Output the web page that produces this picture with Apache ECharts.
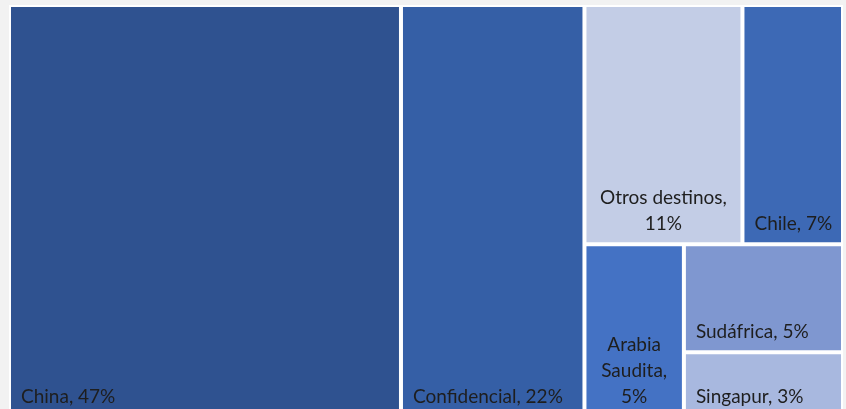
<!DOCTYPE html>
<html>
<head>
<meta charset="utf-8">
<script src="https://cdn.jsdelivr.net/npm/echarts@6/dist/echarts.min.js"></script>
<style>
  html, body { margin: 0; padding: 0; background: #f2f2f2; }
  #chart { width: 846px; height: 409px; }
</style>
</head>
<body>
<div id="chart"></div>
<script>
// destinos y participación (%)
const names = ['China', 'Confidencial', 'Otros destinos', 'Chile', 'Arabia Saudita', 'Sudáfrica', 'Singapur']
const shares = [47, 22, 11, 7, 5, 5, 3]
const colors = ['#2f5290', '#355fa6', '#c3cde6', '#3d69b5', '#4472c4', '#7f97d0', '#a8b8df']
// agrupación de las celdas (índices de names)
const layoutTree = [0, 1, [[2, 3], [4, [5, 6]]]]
// etiquetas partidas en varias líneas, centradas
const wrappedLabels = {
    'Otros destinos': 'Otros destinos,\n{v}%',
    'Arabia Saudita': 'Arabia\nSaudita,\n{v}%'
}

function buildNode(item) {
    if (Array.isArray(item)) {
        return {
            name: '',
            itemStyle: { borderWidth: 0, gapWidth: 2 },
            children: item.map(buildNode)
        }
    }
    const node = {
        name: names[item],
        value: shares[item],
        itemStyle: { color: colors[item] }
    }
    if (wrappedLabels[names[item]]) {
        node.label = { position: 'insideBottom', align: 'center', padding: 0 }
    }
    return node
}

const chart = echarts.init(document.getElementById('chart'))
chart.setOption({
    backgroundColor: '#f2f2f2',
    animation: false,
    series: [{
        type: 'treemap',
        left: 9,
        top: 5,
        width: 834,
        height: 412,
        sort: false,
        squareRatio: 1,
        roam: false,
        nodeClick: false,
        breadcrumb: { show: false },
        itemStyle: { borderColor: '#fff', borderWidth: 1, gapWidth: 2 },
        upperLabel: { show: false },
        label: {
            show: true,
            position: 'insideBottomLeft',
            distance: 5,
            padding: [0, 0, 0, 5],
            formatter: p => {
                const tpl = wrappedLabels[p.name]
                return tpl ? tpl.replace('{v}', p.value) : p.name + ', ' + p.value + '%'
            },
            fontFamily: 'Lato',
            fontSize: 19,
            lineHeight: 26,
            color: '#1e1e1e',
            overflow: 'none'
        },
        data: layoutTree.map(buildNode)
    }]
})
</script>
</body>
</html>
